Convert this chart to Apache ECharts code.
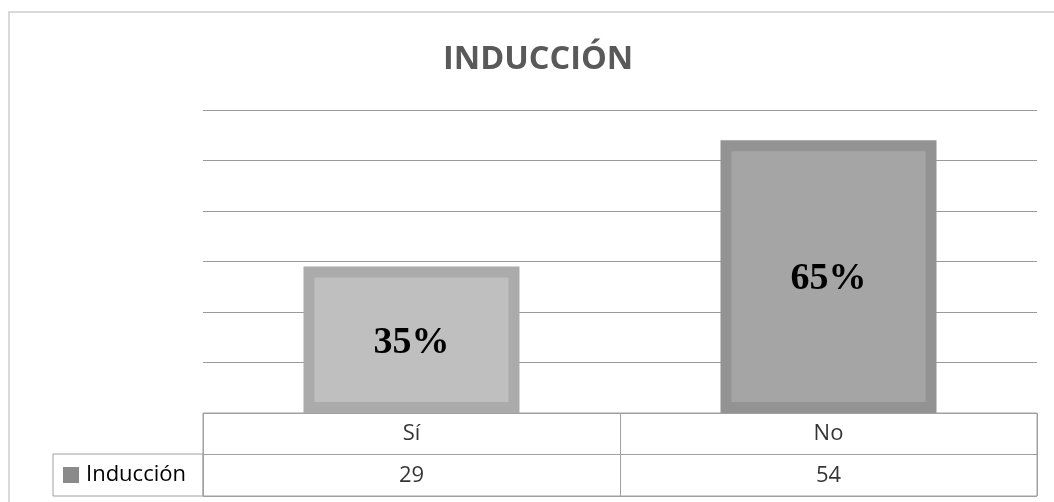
<!DOCTYPE html>
<html lang="es">
<head>
  <meta charset="UTF-8">
  <title>Inducción</title>
  <script src="https://cdn.jsdelivr.net/npm/echarts@6/dist/echarts.min.js"></script>
  <style>
    html, body { margin: 0; padding: 0; background: #fff; }
    #main { width: 1054px; height: 502px; }
  </style>
</head>
<body>
  <div id="main"></div>
  <script type="text/javascript">
    // datos
    var categorias = ['Sí', 'No'];
    var valores = [29, 54];
    var serieNombre = 'Inducción';
    var filas = ['valor', 'cat'];

    // estilos de las barras
    var rellenos = ['#bfbfbf', '#a5a5a5'];
    var bordes = ['#ababab', '#939393'];
    var grosorBorde = 11;

    var total = valores.reduce(function (a, b) { return a + b; }, 0);

    var myChart = echarts.init(document.getElementById('main'));

    // celdas de la tabla: fila de categorías + fila de valores
    var celdas = [];
    categorias.forEach(function (c, i) {
      celdas.push({ value: [c, 'cat'], texto: c });
      celdas.push({ value: [c, 'valor'], texto: String(valores[i]) });
    });

    var option = {
      animation: false,
      title: {
        text: 'INDUCCIÓN',
        left: 438,
        top: 38,
        textStyle: { fontFamily: 'Open Sans', fontWeight: 'bold', fontSize: 32.5, color: '#595959' }
      },
      graphic: [{
        type: 'rect',
        shape: { x: 9, y: 12, width: 2000, height: 2000 },
        style: { fill: 'none', stroke: '#d9d9d9', lineWidth: 2 },
        silent: true
      }],
      legend: {
        data: [serieNombre],
        left: 63, top: 464,
        padding: 0,
        icon: 'rect',
        itemWidth: 16, itemHeight: 16,
        textStyle: { fontFamily: 'Open Sans', fontSize: 22, color: '#000', lineHeight: 22, padding: [0, 0, 0, 2] }
      },
      grid: [
        { left: 203, right: 17, top: 110, bottom: 89 },
        { left: 203, right: 17, top: 413, bottom: 6, show: true, borderColor: '#a0a0a0', borderWidth: 1 },
        { left: 53, right: 851, top: 454, bottom: 6, show: true, borderColor: '#a0a0a0', borderWidth: 1 }
      ],
      xAxis: [
        { type: 'category', data: categorias, gridIndex: 0, axisLine: { show: false }, axisTick: { show: false }, axisLabel: { show: false } },
        { type: 'category', data: categorias, gridIndex: 1, axisLine: { show: false }, axisTick: { show: false }, axisLabel: { show: false },
          splitLine: { show: true, lineStyle: { color: '#a0a0a0', width: 1 } } },
        { type: 'value', gridIndex: 2, show: false }
      ],
      yAxis: [
        { type: 'value', gridIndex: 0, min: 0, max: 60, interval: 10, axisLabel: { show: false }, axisLine: { show: false }, axisTick: { show: false },
          splitLine: { show: true, lineStyle: { color: '#9a9a9a', width: 1 } } },
        { type: 'category', data: filas, gridIndex: 1, axisLine: { show: false }, axisTick: { show: false }, axisLabel: { show: false },
          splitLine: { show: true, lineStyle: { color: '#a0a0a0', width: 1 } } },
        { type: 'value', gridIndex: 2, show: false }
      ],
      series: [
        {
          name: serieNombre,
          type: 'custom',
          xAxisIndex: 0, yAxisIndex: 0,
          itemStyle: { color: '#8a8a8a' },
          data: valores.map(function (v, i) { return [categorias[i], v]; }),
          renderItem: function (params, api) {
            var i = params.dataIndex;
            var arriba = api.coord([api.value(0), api.value(1)]);
            var base = api.coord([api.value(0), 0]);
            var ancho = api.size([1, 0])[0] * 0.518;
            var b = grosorBorde;
            var pct = Math.round(valores[i] / total * 100) + '%';
            return {
              type: 'rect',
              shape: { x: arriba[0] - ancho / 2 + b / 2, y: arriba[1] + b / 2, width: ancho - b, height: base[1] - arriba[1] - b },
              style: { fill: rellenos[i], stroke: bordes[i], lineWidth: b },
              textContent: {
                style: { text: pct, fontFamily: 'Liberation Serif', fontWeight: 'bold', fontSize: 38, fill: '#000' }
              },
              textConfig: { position: 'inside', offset: [0, 3] }
            };
          }
        },
        {
          type: 'scatter',
          xAxisIndex: 1, yAxisIndex: 1,
          symbolSize: 0,
          silent: true,
          data: celdas,
          label: {
            show: true,
            position: 'inside',
            fontFamily: 'Open Sans', fontSize: 22, color: '#000',
            formatter: function (p) { return p.data.texto; }
          }
        }
      ]
    };

    myChart.setOption(option);
  </script>
</body>
</html>
